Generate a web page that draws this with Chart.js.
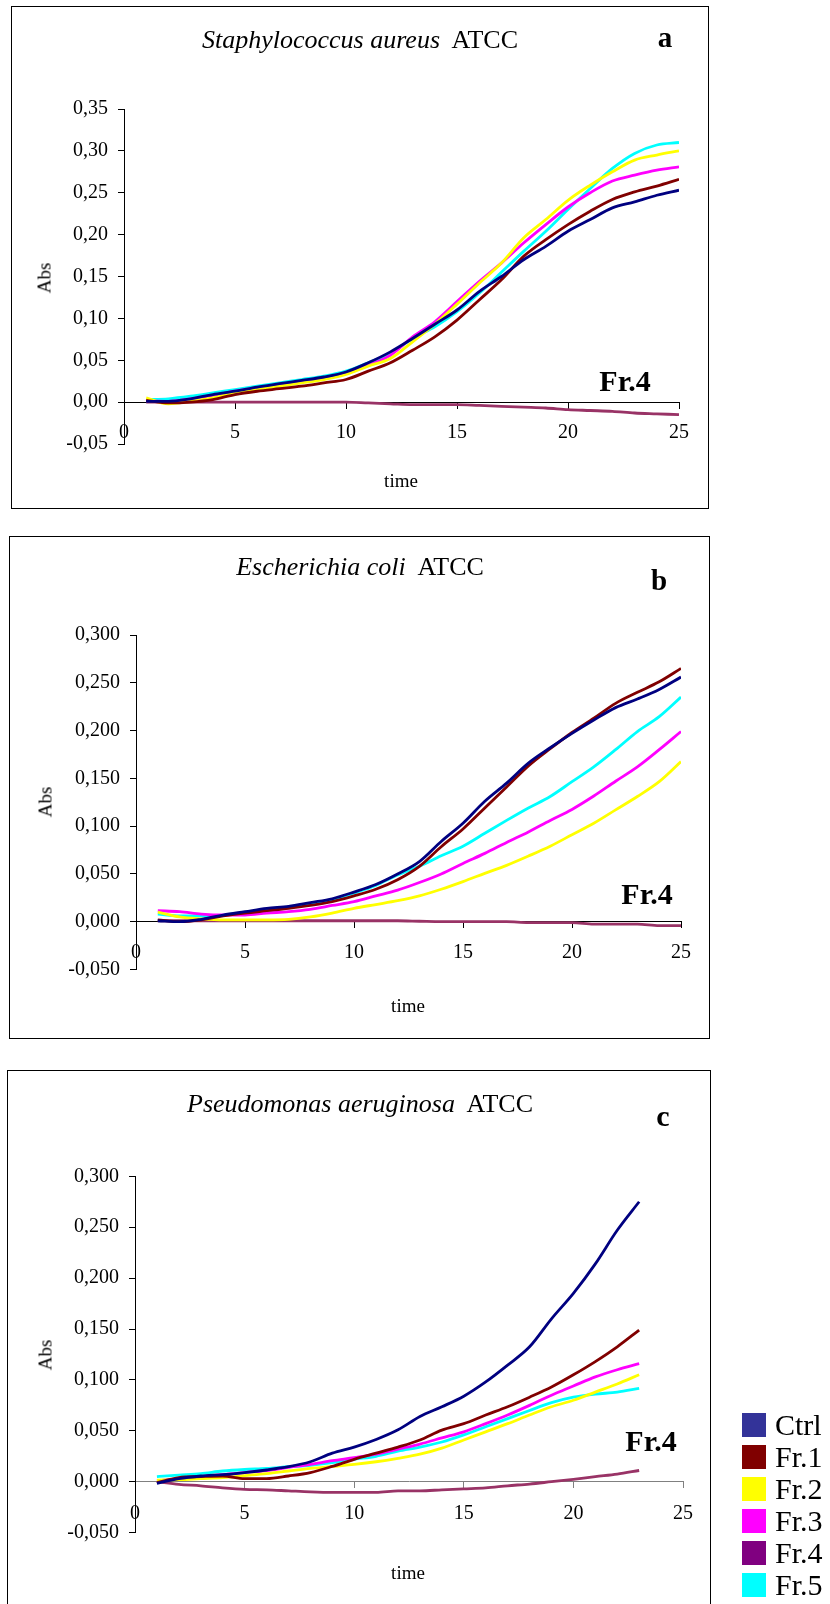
<!DOCTYPE html>
<html>
<head>
<meta charset="utf-8">
<title>Growth curves</title>
<script src="https://cdn.jsdelivr.net/npm/chart.js@4.4.1/dist/chart.umd.min.js"></script>
<style>
  html, body { margin: 0; padding: 0; background: #fff; overflow: hidden; }
  #page { position: relative; width: 830px; height: 1604px; font-family: "Liberation Serif", "Times New Roman", serif; color: #000; }
  .frame { position: absolute; border: 1px solid #000; box-sizing: border-box; }
  canvas { position: absolute; left: 0; }
  .txt { position: absolute; line-height: 1; white-space: pre; transform: translateX(-50%); }
  .title { font-size: 26px; }
  .letter { font-size: 29px; font-weight: bold; }
  .fr4 { font-size: 30px; font-weight: bold; }
  .xlab { font-size: 19px; }
  .ylab { position: absolute; font-size: 19px; line-height: 1; transform: translate(-50%, -50%) rotate(-90deg); }
  #legend { position: absolute; left: 742px; top: 1413px; font-size: 30px; }
  #legend .row { display: flex; align-items: flex-start; height: 24px; margin-bottom: 8.1px; }
  #legend .box { width: 24px; height: 24px; margin-right: 9px; }
  #legend .name { line-height: 24px; }
</style>
</head>
<body>
<div id="page">
  <div class="frame" style="left:11px;top:6px;width:698px;height:503px"></div>
  <div class="frame" style="left:9px;top:536px;width:701px;height:503px"></div>
  <div class="frame" style="left:7px;top:1070px;width:704px;height:560px"></div>

  <canvas id="chartA" width="830" height="520" style="top:0;width:830px;height:520px"></canvas>
  <canvas id="chartB" width="830" height="520" style="top:530px;width:830px;height:520px"></canvas>
  <canvas id="chartC" width="830" height="544" style="top:1060px;width:830px;height:544px"></canvas>

  <div class="txt title" style="left:360px;top:27px"><i>Staphylococcus aureus</i>  ATCC</div>
  <div class="txt letter" style="left:665px;top:23px">a</div>
  <div class="txt fr4" style="left:625px;top:366px">Fr.4</div>
  <div class="ylab" style="left:44px;top:278px">Abs</div>
  <div class="txt xlab" style="left:401px;top:471px">time</div>

  <div class="txt title" style="left:360px;top:554px"><i>Escherichia coli</i>  ATCC</div>
  <div class="txt letter" style="left:659px;top:566px">b</div>
  <div class="txt fr4" style="left:647px;top:879px">Fr.4</div>
  <div class="ylab" style="left:45px;top:802px">Abs</div>
  <div class="txt xlab" style="left:408px;top:996px">time</div>

  <div class="txt title" style="left:360px;top:1091px"><i>Pseudomonas aeruginosa</i>  ATCC</div>
  <div class="txt letter" style="left:663px;top:1101px;font-size:30px">c</div>
  <div class="txt fr4" style="left:651px;top:1426px">Fr.4</div>
  <div class="ylab" style="left:45px;top:1355px">Abs</div>
  <div class="txt xlab" style="left:408px;top:1563px">time</div>

  <div id="legend"></div>
</div>

<script>
// series names and colours
const seriesNames = ['Ctrl', 'Fr.1', 'Fr.2', 'Fr.3', 'Fr.4', 'Fr.5'];
const lineColors = ['#000080', '#800000', '#ffff00', '#ff00ff', '#993366', '#00ffff'];
const legendColors = ['#333399', '#800000', '#ffff00', '#ff00ff', '#800080', '#00ffff'];

// time points (h)
const timeAB = [1, 2, 3, 4, 5, 6, 7, 8, 9, 10, 11, 12, 13, 14, 15, 16, 17, 18, 19, 20, 21, 22, 23, 24, 25];
const timeC = [1, 2, 3, 4, 5, 6, 7, 8, 9, 10, 11, 12, 13, 14, 15, 16, 17, 18, 19, 20, 21, 22, 23];

// a - Staphylococcus aureus ATCC
const ctrlA = [0.001, 0.001, 0.004, 0.009, 0.013, 0.018, 0.022, 0.026, 0.030, 0.036, 0.047, 0.060, 0.076, 0.093, 0.110, 0.132, 0.150, 0.170, 0.186, 0.204, 0.218, 0.232, 0.239, 0.247, 0.253];
const fr1A = [0.002, -0.001, 0.000, 0.003, 0.009, 0.013, 0.016, 0.019, 0.023, 0.027, 0.037, 0.047, 0.062, 0.078, 0.098, 0.122, 0.146, 0.174, 0.194, 0.212, 0.228, 0.242, 0.251, 0.258, 0.266];
const fr2A = [0.005, -0.002, 0.001, 0.005, 0.011, 0.015, 0.019, 0.023, 0.027, 0.033, 0.043, 0.052, 0.072, 0.093, 0.117, 0.142, 0.166, 0.196, 0.218, 0.241, 0.259, 0.275, 0.289, 0.295, 0.300];
const fr3A = [0.002, 0.001, 0.004, 0.008, 0.013, 0.017, 0.021, 0.025, 0.029, 0.034, 0.044, 0.056, 0.078, 0.096, 0.120, 0.144, 0.166, 0.190, 0.212, 0.233, 0.250, 0.264, 0.271, 0.277, 0.281];
const fr4A = [0, 0, 0, 0, 0, 0, 0, 0, 0, 0, -0.001, -0.002, -0.003, -0.003, -0.003, -0.004, -0.005, -0.006, -0.007, -0.009, -0.010, -0.011, -0.013, -0.014, -0.015];
const fr5A = [0.003, 0.004, 0.007, 0.011, 0.015, 0.019, 0.023, 0.027, 0.031, 0.037, 0.047, 0.058, 0.076, 0.090, 0.108, 0.130, 0.155, 0.180, 0.204, 0.230, 0.255, 0.279, 0.297, 0.307, 0.310];

// b - Escherichia coli ATCC
const ctrlB = [0.001, 0.000, 0.0025, 0.007, 0.0105, 0.014, 0.016, 0.020, 0.024, 0.031, 0.039, 0.050, 0.063, 0.084, 0.103, 0.126, 0.145, 0.166, 0.182, 0.197, 0.211, 0.224, 0.233, 0.243, 0.256];
const fr1B = [0.002, 0.000, 0.002, 0.006, 0.009, 0.0115, 0.014, 0.017, 0.021, 0.027, 0.034, 0.044, 0.058, 0.0785, 0.097, 0.119, 0.141, 0.163, 0.181, 0.198, 0.213, 0.2285, 0.240, 0.251, 0.265];
const fr2B = [0.010, 0.005, 0.003, 0.002, 0.002, 0.002, 0.0025, 0.005, 0.009, 0.014, 0.018, 0.022, 0.027, 0.034, 0.042, 0.0506, 0.059, 0.0687, 0.079, 0.091, 0.103, 0.117, 0.131, 0.1465, 0.1675];
const fr3B = [0.0115, 0.0105, 0.008, 0.007, 0.007, 0.009, 0.0105, 0.013, 0.017, 0.021, 0.027, 0.033, 0.041, 0.050, 0.061, 0.0715, 0.083, 0.094, 0.106, 0.1175, 0.1315, 0.147, 0.162, 0.180, 0.199];
const fr4B = [0.001, 0.001, 0.001, 0.001, 0.001, 0.001, 0.001, 0.001, 0.001, 0.001, 0.001, 0.001, 0.0005, 0, 0, 0, 0, -0.001, -0.001, -0.001, -0.0025, -0.0025, -0.0025, -0.004, -0.004];
const fr5B = [0.008, 0.006, 0.006, 0.007, 0.0095, 0.012, 0.015, 0.019, 0.023, 0.030, 0.038, 0.049, 0.058, 0.069, 0.079, 0.0925, 0.106, 0.119, 0.131, 0.1465, 0.162, 0.180, 0.199, 0.2145, 0.235];

// c - Pseudomonas aeruginosa ATCC
const ctrlC = [-0.0016, 0.003, 0.0056, 0.007, 0.009, 0.0115, 0.0147, 0.0196, 0.028, 0.034, 0.0415, 0.051, 0.064, 0.0736, 0.084, 0.098, 0.1145, 0.1325, 0.160, 0.185, 0.214, 0.247, 0.275];
const fr1C = [-0.001, 0.004, 0.005, 0.0056, 0.003, 0.003, 0.0056, 0.009, 0.015, 0.022, 0.028, 0.034, 0.041, 0.0507, 0.057, 0.0655, 0.0736, 0.083, 0.093, 0.105, 0.118, 0.1325, 0.149];
const fr2C = [0.0016, 0.002, 0.003, 0.004, 0.006, 0.008, 0.0105, 0.013, 0.015, 0.017, 0.0196, 0.023, 0.027, 0.033, 0.041, 0.049, 0.057, 0.0655, 0.0736, 0.080, 0.088, 0.096, 0.105];
const fr3C = [0.0007, 0.003, 0.005, 0.007, 0.009, 0.011, 0.014, 0.017, 0.0206, 0.0236, 0.027, 0.032, 0.037, 0.043, 0.049, 0.057, 0.0655, 0.075, 0.085, 0.094, 0.103, 0.110, 0.116];
const fr4C = [0, -0.0026, -0.004, -0.006, -0.0075, -0.008, -0.009, -0.010, -0.0105, -0.0105, -0.0105, -0.009, -0.009, -0.008, -0.007, -0.006, -0.004, -0.0023, 0, 0.0023, 0.005, 0.0075, 0.011];
const fr5C = [0.005, 0.0065, 0.008, 0.0105, 0.012, 0.013, 0.0147, 0.016, 0.0187, 0.022, 0.025, 0.030, 0.034, 0.039, 0.046, 0.054, 0.062, 0.070, 0.0776, 0.083, 0.086, 0.088, 0.0916];

// axis ticks
const xTicks = { min: 0, max: 25, step: 5 };
const yTicksA = { min: -0.05, max: 0.35, step: 0.05, decimals: 2 };
const yTicksBC = { min: -0.05, max: 0.30, step: 0.05, decimals: 3 };

Chart.defaults.font.family = '"Liberation Serif", "Times New Roman", serif';
Chart.defaults.color = '#000';

function buildDatasets(times, seriesList) {
    return seriesList.map((values, i) => ({
        label: seriesNames[i],
        data: times.map((t, j) => ({ x: t, y: values[j] })),
        borderColor: lineColors[i],
        backgroundColor: lineColors[i],
        borderWidth: 2.8,
        pointRadius: 0,
        cubicInterpolationMode: 'monotone',
        fill: false
    }));
}

// comma decimals, and no "-0" from float noise
function formatTick(v, decimals) {
    const r = Math.abs(v) < 1e-9 ? 0 : v;
    return r.toFixed(decimals).replace('.', ',');
}

// area: where the plot area sits inside the canvas, in px
function drawPanel(canvasId, datasets, yTicks, area, xAxisColor, labelPad) {
    const canvas = document.getElementById(canvasId);
    const yAxisWidth = 90;
    new Chart(canvas, {
        type: 'line',
        data: { datasets },
        options: {
            responsive: false,
            animation: false,
            devicePixelRatio: 1,
            layout: {
                padding: {
                    left: area.left - yAxisWidth,
                    top: area.top,
                    right: canvas.width - area.right,
                    bottom: canvas.height - area.bottom
                }
            },
            plugins: {
                legend: { display: false },
                tooltip: { enabled: false }
            },
            scales: {
                x: {
                    type: 'linear',
                    position: { y: 0 },
                    min: xTicks.min,
                    max: xTicks.max,
                    border: { display: true, color: xAxisColor, width: 1 },
                    grid: { display: true, drawOnChartArea: false, drawTicks: true, tickLength: 6, color: xAxisColor },
                    ticks: {
                        stepSize: xTicks.step,
                        autoSkip: false,
                        maxRotation: 0,
                        padding: labelPad,
                        font: { size: 20 },
                        color: '#000'
                    },
                    afterFit: (scale) => {
                        scale.height = 0;
                        scale.paddingLeft = 0;
                        scale.paddingRight = 0;
                    }
                },
                y: {
                    type: 'linear',
                    min: yTicks.min,
                    max: yTicks.max,
                    border: { display: true, color: '#000', width: 1 },
                    grid: { display: true, drawOnChartArea: false, drawTicks: true, tickLength: 6, color: '#000' },
                    ticks: {
                        stepSize: yTicks.step,
                        padding: 10,
                        font: { size: 20 },
                        color: '#000',
                        callback: (v) => formatTick(v, yTicks.decimals)
                    },
                    afterFit: (scale) => {
                        scale.width = yAxisWidth;
                        scale.paddingTop = 0;
                        scale.paddingBottom = 0;
                    }
                }
            }
        }
    });
}

drawPanel('chartA', buildDatasets(timeAB, [ctrlA, fr1A, fr2A, fr3A, fr4A, fr5A]), yTicksA,
    { left: 124, right: 679, top: 109, bottom: 444 }, '#000', 13);
drawPanel('chartB', buildDatasets(timeAB, [ctrlB, fr1B, fr2B, fr3B, fr4B, fr5B]), yTicksBC,
    { left: 136, right: 681, top: 105, bottom: 439.5 }, '#000', 13);
drawPanel('chartC', buildDatasets(timeC, [ctrlC, fr1C, fr2C, fr3C, fr4C, fr5C]), yTicksBC,
    { left: 135, right: 683, top: 116.3, bottom: 472.6 }, '#808080', 14.5);

// legend next to panel c
const legend = document.getElementById('legend');
seriesNames.forEach((name, i) => {
    const row = document.createElement('div');
    row.className = 'row';
    row.innerHTML = `<div class="box" style="background:${legendColors[i]}"></div><div class="name">${name}</div>`;
    legend.appendChild(row);
});
</script>
</body>
</html>
